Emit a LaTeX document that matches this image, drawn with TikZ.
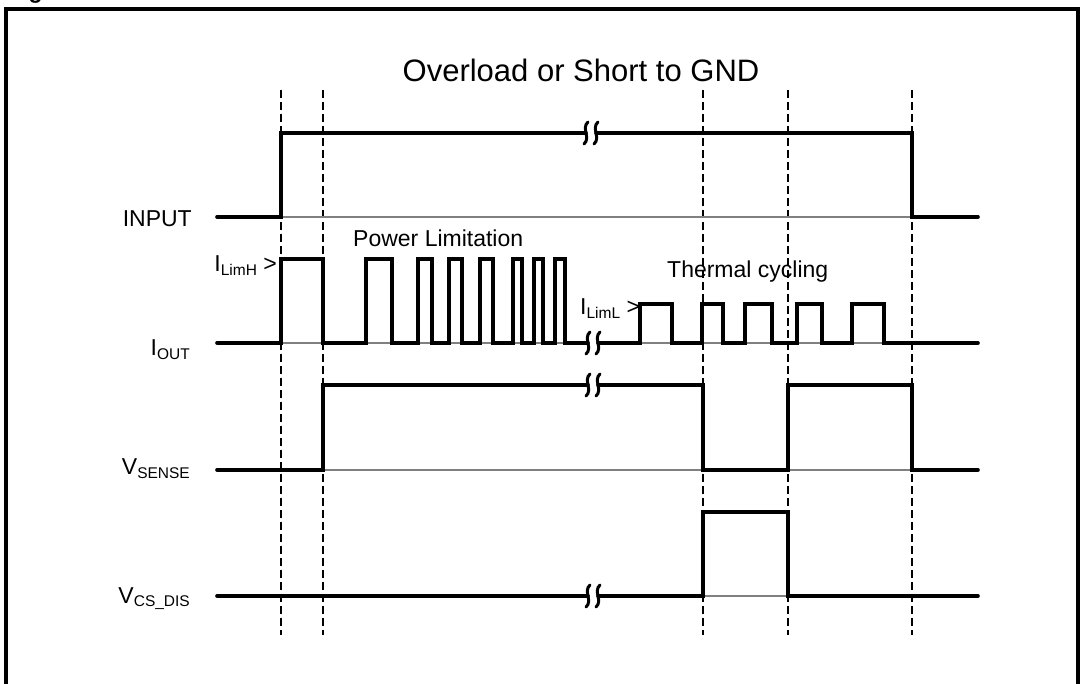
\documentclass[tikz,border=0pt]{standalone}
\usepackage{fontspec}
\setmainfont{Liberation Sans}
\newcommand{\lowtxt}[1]{\raisebox{-0.17em}{\fontsize{15.5}{16}\selectfont #1}}

\begin{document}
\begin{tikzpicture}[
    x=1pt, y=-1pt,
    signal/.style={line width=3.6pt, line join=miter, line cap=round},
    refline/.style={line width=1.3pt, gray},
    marker/.style={line width=1.7pt, dash pattern=on 8pt off 4pt},
    squiggle/.style={line width=3pt, line cap=round},
    siglabel/.style={anchor=base east, inner sep=0pt, font=\fontsize{23}{26}\selectfont},
    note/.style={anchor=base west, inner sep=0pt, font=\fontsize{23}{26}\selectfont}
]
\useasboundingbox (0,0) rectangle (1080,684);

% Caption above the frame (cut off by the page) and frame
\node[anchor=base west, inner sep=0pt, font=\bfseries\fontsize{23}{26}\selectfont] (figcap) at (8,-1) {Figure};
\draw[line width=3.2pt] (6,9) rectangle (1078,720);

% Title
\node[anchor=base, inner sep=0pt, font=\fontsize{31}{35}\selectfont] (title) at (581,82) {Overload or Short to GND};

% Dashed time markers
\foreach \mx in {281,323,703,788,912}
    \draw[marker] (\mx,90) -- (\mx,635);

% Reference (zero) lines
\draw[refline] (281,217) -- (912,217);
\draw[refline] (281,343) -- (588,343);
\draw[refline] (598,343) -- (884,343);
\draw[refline] (323,470) -- (912,470);
\draw[refline] (703,596) -- (788,596);

% INPUT
\draw[signal] (217,217) -- (281,217) -- (281,133) -- (586,133);
\draw[signal] (596,133) -- (912,133) -- (912,217) -- (978,217);

% I_OUT - power limitation
\draw[signal] (217,343) -- (281,343) -- (281,259) -- (323,259) -- (323,343)
    \foreach \ra/\fa in {366/392, 418/432, 449/462, 480/493, 513/522, 534/543, 555/565} {
        -- (\ra,343) -- (\ra,259) -- (\fa,259) -- (\fa,343) } -- (588,343);

% I_OUT - thermal cycling
\draw[signal] (598,343)
    \foreach \ra/\fa in {640/672, 702/723, 745/772, 797/822, 852/884} {
        -- (\ra,343) -- (\ra,304) -- (\fa,304) -- (\fa,343) } -- (978,343);

% V_SENSE
\draw[signal] (217,470) -- (323,470) -- (323,385) -- (588,385);
\draw[signal] (598,385) -- (703,385) -- (703,470) -- (788,470) -- (788,385) -- (912,385) -- (912,470) -- (978,470);

% V_CS_DIS
\draw[signal] (217,596) -- (588,596);
\draw[signal] (598,596) -- (703,596) -- (703,512) -- (788,512) -- (788,596) -- (978,596);

% Time breaks
\foreach \bx/\by in {591/133, 593/343, 593/385, 593/596} {
    \foreach \sx in {\bx-5, \bx+5}
        \draw[squiggle] (\sx+2,\by-11) .. controls (\sx-5,\by-5) and (\sx+5,\by+5) .. (\sx-2,\by+11);
}

% Signal names
\node[siglabel] (input) at (192,227) {INPUT};
\node[siglabel] (iout) at (190,356) {I\lowtxt{OUT}};
\node[siglabel] (vsense) at (190,475) {V\lowtxt{SENSE}};
\node[siglabel] (vcsdis) at (190,603) {V\lowtxt{CS\_DIS}};

% Notes on the waveforms
\node[siglabel] (ilimh) at (277,272) {I\lowtxt{LimH} >};
\node[note] (iliml) at (580,315) {I\lowtxt{LimL} >};
\node[note] (powlim) at (353,247) {Power Limitation};
\node[note] (thermal) at (667,278) {Thermal cycling};

\end{tikzpicture}
\end{document}
